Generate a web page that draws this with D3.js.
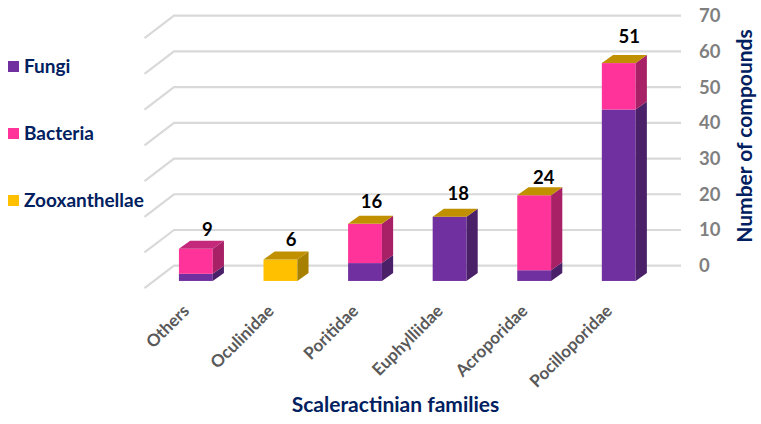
<!DOCTYPE html>
<meta charset="utf-8">
<style>
	body { margin: 0; background: white; }
	text { font-family: Lato, sans-serif; font-weight: 700; }
	.grid { stroke: #d9d9d9; stroke-width: 2.2px; fill: none; }
	.yaxis text { fill: #7f7f7f; font-size: 18.5px; }
	.xaxis text { fill: #595959; font-size: 17px; }
	.total { fill: #000; font-size: 18.5px; text-anchor: middle; }
	.title { fill: #002060; font-size: 21px; }
	.legend { fill: #002060; font-size: 19px; }
</style>
<html>
<body>
	<script src="https://d3js.org/d3.v7.min.js"></script>
	<script>
		var categories = ["Others", "Oculinidae", "Poritidae", "Euphylliidae", "Acroporidae", "Pocilloporidae"];
		var fungi = [2, 0, 5, 18, 3, 48];
		var bacteria = [7, 0, 11, 0, 21, 13];
		var zooxanthellae = [0, 6, 0, 0, 0, 0];
		var totals = [9, 6, 16, 18, 24, 51];
		var yTicks = [0, 10, 20, 30, 40, 50, 60, 70];
		var seriesNames = ["Fungi", "Bacteria", "Zooxanthellae"];

		var width = 761;
		var height = 424;

		// wall depth and bar depth of the fake 3d
		var depth = {x: 29.5, y: 22.5};
		var barDepth = {x: 11.2, y: 8};
		var inset = {x: (depth.x - barDepth.x) / 2, y: (depth.y - barDepth.y) / 2};

		// the total labels were placed by hand in the original, so nudge them per family
		var labelNudge = {
			Others: [6, 8],
			Oculinidae: [5, 7],
			Poritidae: [1, 5],
			Euphylliidae: [3, 4],
			Acroporidae: [4, 10],
			Pocilloporidae: [5, 1]
		};

		var x = d3.scaleBand().domain(categories).range([144, 651.5]).paddingInner(0.6).paddingOuter(0.3);
		var y = d3.scaleLinear().domain([0, 70]).range([265.7, 15.7]);

		var colors = {
			Fungi: {front: "#7030a0", side: "#4a2069"},
			Bacteria: {front: "#ff3399", side: "#a82065"},
			Zooxanthellae: {front: "#ffc000", side: "#a88000"}
		};
		var goldTop = "#c09000";
		var pinkTop = "#c4287a";

		var svg = d3.select("body")
			.append("svg")
			.attr("width", width)
			.attr("height", height);

		// gridlines on the back wall and the floor/side wall
		var grid = svg.append("g");
		grid.selectAll("path")
			.data(yTicks)
			.enter().append("path")
			.attr("class", "grid")
			.attr("d", function(d) {
				var p = d3.path();
				p.moveTo(174 - depth.x, y(d) + depth.y);
				p.lineTo(174, y(d));
				p.lineTo(681, y(d));
				return p.toString();
			});

		// value axis
		var yAxis = svg.append("g")
			.attr("class", "yaxis")
			.attr("transform", "translate(699,0)")
			.call(d3.axisRight(y).tickValues(yTicks).tickSize(0).tickPadding(0));
		yAxis.select(".domain").remove();

		// stack the three series per family
		var rows = categories.map(function(c, i) {
			return {category: c, Fungi: fungi[i], Bacteria: bacteria[i], Zooxanthellae: zooxanthellae[i], total: totals[i]};
		});
		var stacked = d3.stack().keys(seriesNames)(rows);

		var front = function(v) { return y(v) + depth.y - inset.y; };
		var left = function(c) { return x(c) + inset.x + 0.4; };

		stacked.forEach(function(layer) {
			var col = colors[layer.key];
			var g = svg.append("g");
			var segs = g.selectAll("g")
				.data(layer.filter(function(d) { return d[1] > d[0]; }))
				.enter().append("g");

			segs.append("rect")
				.attr("x", function(d) { return left(d.data.category); })
				.attr("y", function(d) { return front(d[1]); })
				.attr("width", x.bandwidth())
				.attr("height", function(d) { return front(d[0]) - front(d[1]); })
				.attr("fill", col.front);

			segs.append("path")
				.attr("fill", col.side)
				.attr("d", function(d) {
					var x0 = left(d.data.category) + x.bandwidth();
					var p = d3.path();
					p.moveTo(x0, front(d[0]));
					p.lineTo(x0 + barDepth.x, front(d[0]) - barDepth.y);
					p.lineTo(x0 + barDepth.x, front(d[1]) - barDepth.y);
					p.lineTo(x0, front(d[1]));
					p.closePath();
					return p.toString();
				});
		});

		// bar lids
		var barTop = function(d) { return d.Fungi + d.Bacteria + d.Zooxanthellae; };
		svg.append("g").selectAll("path")
			.data(rows)
			.enter().append("path")
			.attr("fill", function(d) { return d.category == "Others" ? pinkTop : goldTop; })
			.attr("d", function(d) {
				var x0 = left(d.category);
				var t = front(barTop(d));
				var p = d3.path();
				p.moveTo(x0, t);
				p.lineTo(x0 + barDepth.x, t - barDepth.y);
				p.lineTo(x0 + barDepth.x + x.bandwidth(), t - barDepth.y);
				p.lineTo(x0 + x.bandwidth(), t);
				p.closePath();
				return p.toString();
			});

		// total labels
		svg.append("g").selectAll("text")
			.data(rows)
			.enter().append("text")
			.attr("class", "total")
			.attr("x", function(d) { return left(d.category) + x.bandwidth() / 2 + barDepth.x / 2 + labelNudge[d.category][0]; })
			.attr("y", function(d) { return front(barTop(d)) - barDepth.y - 13 + labelNudge[d.category][1]; })
			.text(function(d) { return d.total; });

		// family labels
		var xAxis = svg.append("g")
			.attr("class", "xaxis")
			.attr("transform", "translate(0,290)")
			.call(d3.axisBottom(x).tickSize(0).tickPadding(0));
		xAxis.select(".domain").remove();
		xAxis.selectAll("text")
			.attr("text-anchor", "end")
			.attr("dy", "0")
			.attr("transform", "translate(4,22) rotate(-45)");

		svg.append("text")
			.attr("class", "title")
			.attr("x", 395.5)
			.attr("y", 412)
			.attr("text-anchor", "middle")
			.text("Scaleractinian families");

		svg.append("text")
			.attr("class", "title")
			.attr("transform", "translate(752,136) rotate(-90)")
			.attr("text-anchor", "middle")
			.text("Number of compounds");

		// legend
		var legendY = d3.scalePoint().domain(seriesNames).range([66.5, 200.5]);
		var legend = svg.append("g").selectAll("g")
			.data(seriesNames)
			.enter().append("g")
			.attr("transform", function(d) { return "translate(8," + legendY(d) + ")"; });
		legend.append("rect")
			.attr("y", -5.5)
			.attr("width", 11)
			.attr("height", 11)
			.attr("fill", function(d) { return colors[d].front; });
		legend.append("text")
			.attr("class", "legend")
			.attr("x", 16)
			.attr("y", 6)
			.text(function(d) { return d; });
	</script>
</body>
</html>
